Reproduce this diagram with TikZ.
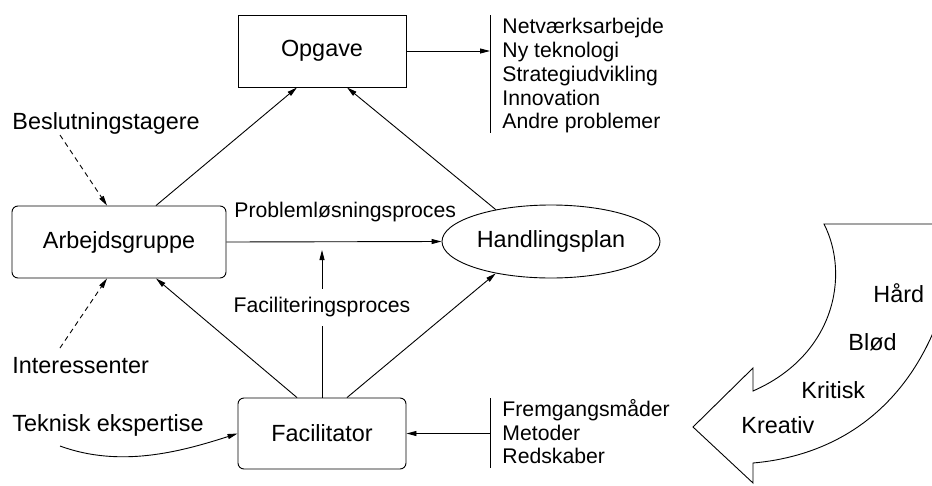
\documentclass[tikz,border=0pt]{standalone}
\usepackage{fontspec}
\setmainfont{Liberation Sans}
\usetikzlibrary{arrows.meta,shapes.geometric}
\begin{document}
\begin{tikzpicture}[x=1pt,y=-1pt,
  line width=0.9pt,
  big/.style={font=\fontsize{23.4}{28}\selectfont},
  small/.style={font=\fontsize{21.2}{24}\selectfont},
  box/.style={draw, big, minimum width=168pt, minimum height=72pt, inner sep=0pt},
  rbox/.style={box, rounded corners=6pt},
  arr/.style={-{Triangle[length=10pt,width=5pt]}},
  dasharr/.style={arr, dash pattern=on 5pt off 4pt},
  lbl/.style={anchor=base west, inner sep=0pt},
]
\useasboundingbox (0,0) rectangle (932,485);

% main nodes
\node[box]  (opg) at (322,51)  {Opgave};
\node[rbox, minimum width=214pt] (arb) at (119,242) {Arbejdsgruppe};
\node[rbox, minimum height=71pt] (fac) at (322,433.5) {Facilitator};
\node[draw, ellipse, big, minimum width=218pt, minimum height=73pt, inner sep=0pt]
  (hp) at (551,241.5) {Handlingsplan};

% outside influences
\node[lbl, big] (besl) at (12,129) {Beslutningstagere};
\node[lbl, big] (inter) at (12,373) {Interessenter};
\node[lbl, big] (tek) at (12,431) {Teknisk ekspertise};
\coordinate (beslend) at (60,135);
\coordinate (interend) at (60,348);
\coordinate (tekend) at (60,446);

% process labels
\node[lbl, small] (plp) at (234,217) {Problemløsningsproces};
\node[small, inner xsep=0pt, inner ysep=8.5pt] (fp) at (322,307.5) {Faciliteringsproces};
\coordinate (fpend) at (322,250);

% task list
\coordinate (bar1top) at (490,15);
\coordinate (bar1bot) at (490,133);
\node[lbl, small] (t1) at (502,33)  {Netværksarbejde};
\node[lbl, small] (t2) at (502,57)  {Ny teknologi};
\node[lbl, small] (t3) at (502,81)  {Strategiudvikling};
\node[lbl, small] (t4) at (502,105) {Innovation};
\node[lbl, small] (t5) at (502,128) {Andre problemer};

% tool list
\coordinate (bar2top) at (490,398);
\coordinate (bar2bot) at (490,468);
\node[lbl, small] (m1) at (502,416) {Fremgangsmåder};
\node[lbl, small] (m2) at (502,440) {Metoder};
\node[lbl, small] (m3) at (502,463) {Redskaber};

% connectors
\draw[arr] ([xshift=37pt]arb.north) -- ([xshift=-25pt]opg.south);
\draw[arr] (hp.150) -- ([xshift=25pt]opg.south);
\draw[arr] (arb.east) -- (hp.west);
\draw[arr] ([xshift=-25pt]fac.north) -- ([xshift=37pt]arb.south);
\draw[arr] ([xshift=25pt]fac.north) -- (hp.210);
\draw (fac.north) -- (fp.south);
\draw[arr] (fp.north) -- (fpend);
\draw[dasharr] (beslend) -- ([xshift=-12pt]arb.north);
\draw[dasharr] (interend) -- ([xshift=-12pt]arb.south);
\draw[arr] (tekend) .. controls (120,468) and (180,452) .. (fac.west);

\draw (bar1top) -- (bar1bot);
\draw[arr] (opg.east) -- (opg.east -| bar1top);
\draw (bar2top) -- (bar2bot);
\draw[arr] (fac.east -| bar2top) -- (fac.east);

% bent arrow of approaches
\begin{scope}
  \clip (0,0) rectangle (932,485);
  \draw[line join=miter] (824,224) .. controls (850,275) and (835,355) .. (753,391)
    -- (753,368) -- (693,427) -- (753,483) -- (753,463)
    .. controls (845,455) and (915,400) .. (945,300)
    -- (945,224) -- cycle;
\end{scope}
\node[lbl, big] (hard) at (873,302) {Hård};
\node[lbl, big] (blod) at (848,350) {Blød};
\node[lbl, big] (krit) at (801,398) {Kritisk};
\node[lbl, big] (krea) at (741,433) {Kreativ};
\end{tikzpicture}
\end{document}
